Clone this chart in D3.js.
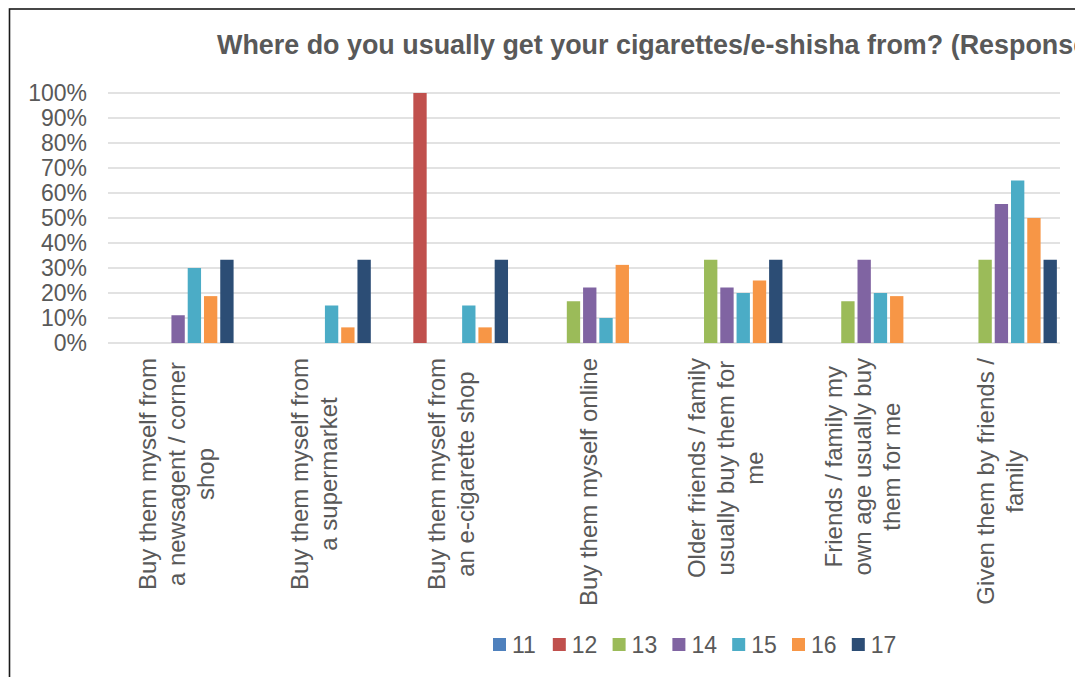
<!DOCTYPE html>
<html>
<head>
<meta charset="utf-8">
<script src="https://cdn.jsdelivr.net/npm/d3@7"></script>
<style>
  html, body { margin: 0; padding: 0; background: #fff; }
  svg { display: block; font-family: "Liberation Sans", Arial, sans-serif; }
</style>
</head>
<body>
<svg id="chart" width="1075" height="677"></svg>
<script>
const title = "Where do you usually get your cigarettes/e-shisha from? (Responses by age)";
const categories = [
  ["Buy them myself from", "a newsagent / corner", "shop"],
  ["Buy them myself from", "a supermarket"],
  ["Buy them myself from", "an e-cigarette shop"],
  ["Buy them myself online"],
  ["Older friends / family", "usually buy them for", "me"],
  ["Friends / family my", "own age usually buy", "them for me"],
  ["Given them by friends /", "family"]
];
const seriesNames = ["11", "12", "13", "14", "15", "16", "17"];
const seriesColors = ["#4F81BD", "#C0504D", "#9BBB59", "#8064A2", "#4BACC6", "#F79646", "#2C4D75"];
// values per series (one per category), fractions; null = no bar
const s11 = [null, null, null, null, null, null, null];
const s12 = [null, null, 1.00, null, null, null, null];
const s13 = [null, null, null, 0.167, 0.333, 0.167, 0.333];
const s14 = [0.111, null, null, 0.222, 0.222, 0.333, 0.556];
const s15 = [0.30, 0.15, 0.15, 0.10, 0.20, 0.20, 0.65];
const s16 = [0.1875, 0.0625, 0.0625, 0.3125, 0.25, 0.1875, 0.50];
const s17 = [0.333, 0.333, 0.333, null, 0.333, null, 0.333];
const seriesValues = [s11, s12, s13, s14, s15, s16, s17];
const yTicks = [0, 0.1, 0.2, 0.3, 0.4, 0.5, 0.6, 0.7, 0.8, 0.9, 1.0];

const svg = d3.select("#chart");
const textColor = "#595959";

// frame
svg.append("rect").attr("x", 9.5).attr("y", 9).attr("width", 1200).attr("height", 1000)
  .attr("fill", "none").attr("stroke", "#1a1a1a").attr("stroke-width", 1.6);

// title (the chart is wider than the viewport; the title runs past the right edge as in the reference)
svg.append("text").attr("x", 217).attr("y", 54)
  .attr("fill", textColor).attr("font-weight", "bold").attr("font-size", 26.9)
  .text(title);

const plotLeft = 108, plotRight = 1060;
const y = d3.scaleLinear().domain([0, 1]).range([343, 93]);
const x0 = d3.scaleBand().domain(d3.range(categories.length)).range([109.5, 1070])
  .paddingInner(0.17).paddingOuter(0.085);
const x1 = d3.scaleBand().domain(seriesNames).range([0, x0.bandwidth()]).paddingInner(0.18).paddingOuter(0.09);

// gridlines
svg.append("g").selectAll("line").data(yTicks).join("line")
  .attr("x1", plotLeft).attr("x2", plotRight)
  .attr("y1", d => y(d)).attr("y2", d => y(d))
  .attr("stroke", "#D9D9D9").attr("stroke-width", 1.5);

// y axis
const yAxis = d3.axisLeft(y).tickValues(yTicks).tickFormat(d3.format(".0%")).tickSize(0).tickPadding(0);
const yg = svg.append("g").attr("transform", "translate(87,0)").call(yAxis);
yg.select(".domain").remove();
yg.selectAll("text").attr("fill", textColor).attr("font-size", 23)
  .attr("font-family", "'Liberation Sans', Arial, sans-serif");

// bars
const groups = svg.append("g").selectAll("g").data(categories.map((c, i) => i)).join("g")
  .attr("transform", i => `translate(${x0(i)},0)`);
groups.selectAll("rect")
  .data(i => seriesNames.map((s, k) => ({ s, k, v: seriesValues[k][i] })).filter(d => d.v != null))
  .join("rect")
  .attr("x", d => x1(d.s))
  .attr("width", x1.bandwidth())
  .attr("y", d => y(d.v))
  .attr("height", d => y(0) - y(d.v))
  .attr("fill", d => seriesColors[d.k]);

// x labels
const lineH = 29;
const labelTop = 358;
categories.forEach((lines, i) => {
  const cx = x0(i) + x0.bandwidth() / 2;
  const g = svg.append("g").attr("transform", `translate(${cx},0) rotate(-90)`);
  const n = lines.length;
  const texts = lines.map((ln, j) => g.append("text")
    .attr("text-anchor", "middle")
    .attr("y", (j - (n - 1) / 2) * lineH + 7)
    .attr("fill", textColor).attr("font-size", 24)
    .text(ln));
  const maxW = d3.max(texts, t => t.node().getComputedTextLength());
  texts.forEach(t => t.attr("x", -(labelTop + maxW / 2)));
});

// legend
const legend = svg.append("g").selectAll("g").data(seriesNames).join("g")
  .attr("transform", (d, i) => `translate(${493 + i * 59.8},638)`);
legend.append("rect").attr("width", 13).attr("height", 13).attr("fill", (d, i) => seriesColors[i]);
legend.append("text").attr("x", 19).attr("y", 15).attr("fill", textColor).attr("font-size", 23).text(d => d);
</script>
</body>
</html>
